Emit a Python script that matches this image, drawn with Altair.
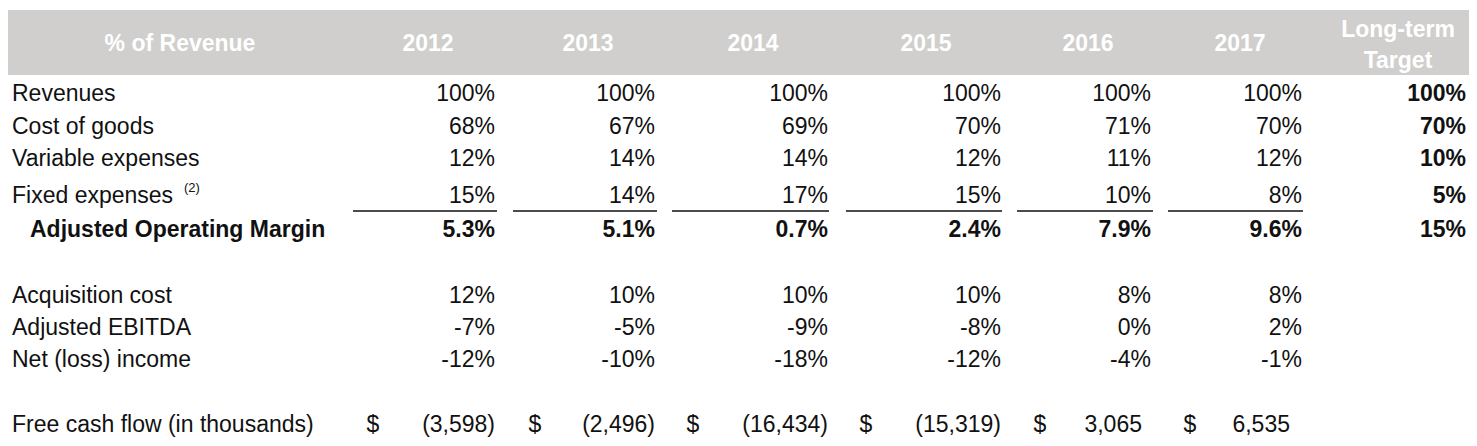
import altair as alt
import pandas as pd

# ---------------- data ----------------
columns = ["2012", "2013", "2014", "2015", "2016", "2017", "Long-term Target"]
row_labels = ["Revenues", "Cost of goods", "Variable expenses", "Fixed expenses",
              "Adjusted Operating Margin", "Acquisition cost", "Adjusted EBITDA",
              "Net (loss) income"]
revenues = ["100%", "100%", "100%", "100%", "100%", "100%", "100%"]
cost_of_goods = ["68%", "67%", "69%", "70%", "71%", "70%", "70%"]
variable_expenses = ["12%", "14%", "14%", "12%", "11%", "12%", "10%"]
fixed_expenses = ["15%", "14%", "17%", "15%", "10%", "8%", "5%"]
adj_operating_margin = ["5.3%", "5.1%", "0.7%", "2.4%", "7.9%", "9.6%", "15%"]
acquisition_cost = ["12%", "10%", "10%", "10%", "8%", "8%", ""]
adjusted_ebitda = ["-7%", "-5%", "-9%", "-8%", "0%", "2%", ""]
net_income = ["-12%", "-10%", "-18%", "-12%", "-4%", "-1%", ""]
fcf_label = "Free cash flow (in thousands)"
fcf_values = ["(3,598)", "(2,496)", "(16,434)", "(15,319)", "3,065", "6,535"]
header_first = "% of Revenue"
footnote = "(2)"

# ---------------- layout (chart pixel coordinates) ----------------
W, H = 1461, 430
FS = 23
FONT = "Liberation Sans"
INK = "#111111"
HEADER_BG = "#D0CFCD"

col_right = [487, 647, 820, 993, 1143, 1294, 1458]
col_head_center = [420, 580, 745, 918, 1080, 1232, 1390]
row_y = [86, 119, 151, 188, 222, 288, 320, 352, 417]
label_x = 4
label_x_bold = 22
ul_left = [345, 505, 664, 838, 1009, 1160]
ul_right = [489, 649, 821, 994, 1145, 1295]
ul_y = 203
dollar_x = [365, 527, 685, 858, 1032, 1182]
fcf_right = [487, 647, 820, 993, 1134, 1282]

series = [revenues, cost_of_goods, variable_expenses, fixed_expenses,
          adj_operating_margin, acquisition_cost, adjusted_ebitda, net_income]

cells = []
for ri, (rl, vals) in enumerate(zip(row_labels, series)):
    for ci, (c, v) in enumerate(zip(columns, vals)):
        if v == "":
            continue
        bold = (rl == "Adjusted Operating Margin") or (c == "Long-term Target")
        cells.append({"row": rl, "col": c, "text": v,
                      "bold": "bold" if bold else "normal",
                      "px": col_right[ci], "py": row_y[ri]})
cells_df = pd.DataFrame(cells)


def txt(df, align="left", weight="normal", color=INK, size=FS):
    return alt.Chart(df).mark_text(
        font=FONT, fontSize=size, color=color, align=align, baseline="middle",
        fontWeight=weight
    ).encode(
        x=alt.X("px:Q", scale=None, axis=None),
        y=alt.Y("py:Q", scale=None, axis=None),
        text="text",
    )


# header band
band = alt.Chart(pd.DataFrame({"k": [0]})).mark_rect(color=HEADER_BG).encode(
    x=alt.value(-2), x2=alt.value(1464), y=alt.value(2), y2=alt.value(67)
)

head_df = pd.DataFrame({"text": [header_first] + columns[:-1],
                        "px": [172] + col_head_center[:-1],
                        "py": [36] * 7})
head = txt(head_df, align="center", weight="bold", color="white")
lt_df = pd.DataFrame({"text": columns[-1].split(" ", 1),
                      "px": [col_head_center[-1]] * 2, "py": [22, 53]})
lt = txt(lt_df, align="center", weight="bold", color="white")

# row labels
lab_df = pd.DataFrame({"text": row_labels + [fcf_label], "py": row_y})
lab_df["px"] = [label_x_bold if t == "Adjusted Operating Margin" else label_x for t in lab_df["text"]]
labels_normal = txt(lab_df[lab_df.text != "Adjusted Operating Margin"])
labels_bold = txt(lab_df[lab_df.text == "Adjusted Operating Margin"], weight="bold")
sup = txt(pd.DataFrame({"text": [footnote], "px": [176], "py": [180]}), size=13)

vals_normal = txt(cells_df[cells_df.bold == "normal"], align="right")
vals_bold = txt(cells_df[cells_df.bold == "bold"], align="right", weight="bold")

# underlines
ul_df = pd.DataFrame({"col": columns[:-1], "x0": ul_left, "x1": ul_right, "py": [ul_y] * 6})
ul = alt.Chart(ul_df).mark_rule(color=INK, strokeWidth=1.3).encode(
    x=alt.X("x0:Q", scale=None, axis=None),
    x2="x1:Q",
    y=alt.Y("py:Q", scale=None, axis=None),
)

# free cash flow row
dol_df = pd.DataFrame({"text": ["$"] * 6, "px": dollar_x, "py": [row_y[-1]] * 6})
dollars = txt(dol_df, align="center")
fcf_df = pd.DataFrame({"text": fcf_values, "px": fcf_right, "py": [row_y[-1]] * 6})
fcf = txt(fcf_df, align="right")

chart = alt.layer(
    band, head, lt, labels_normal, labels_bold, sup,
    vals_normal, vals_bold, ul, dollars, fcf
).properties(
    width=W, height=H, padding=0, autosize=alt.AutoSizeParams(type="none"),
    background="white"
).configure_view(stroke=None)

chart.save("out.html", embed_options={"renderer": "svg", "actions": False})
